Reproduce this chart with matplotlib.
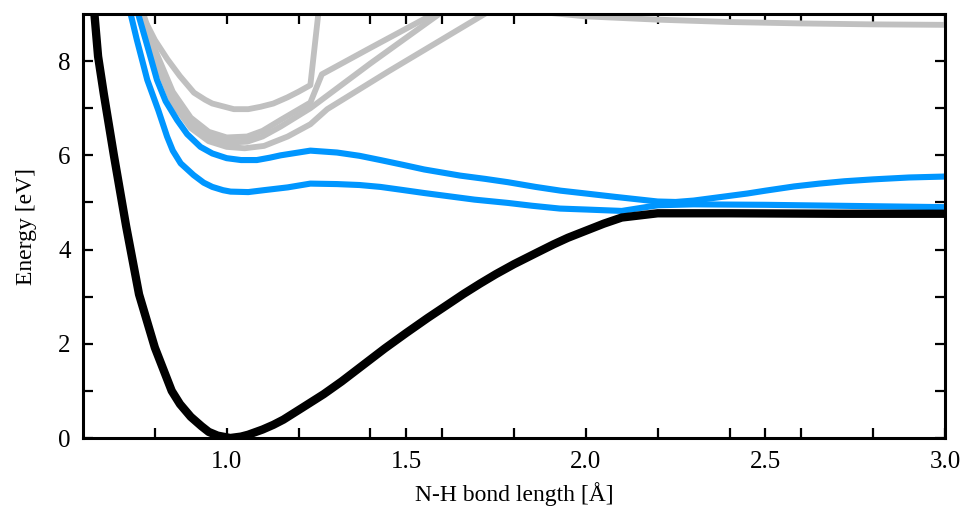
import matplotlib
matplotlib.use("Agg")
import matplotlib.pyplot as plt

# ground state (black)
gs_r = [0.625, 0.642, 0.658, 0.686, 0.72, 0.756, 0.80, 0.847, 0.87, 0.90, 0.93, 0.95, 0.975,
        1.01, 1.04, 1.06, 1.10, 1.13, 1.158, 1.21, 1.27, 1.32, 1.38, 1.44, 1.50, 1.56,
        1.613, 1.66, 1.706, 1.75, 1.80, 1.86, 1.91, 1.95, 2.0, 2.05, 2.10, 2.2, 2.4, 2.7, 3.0]
gs_e = [9.6, 8.1, 7.3, 6.0, 4.5, 3.05, 1.92, 1.0, 0.72, 0.45, 0.25, 0.13, 0.05,
        0.0, 0.03, 0.07, 0.18, 0.28, 0.39, 0.64, 0.93, 1.2, 1.55, 1.9, 2.23, 2.55,
        2.82, 3.06, 3.28, 3.48, 3.69, 3.92, 4.11, 4.25, 4.40, 4.55, 4.68, 4.77, 4.77, 4.76, 4.76]

# two lowest excited states (blue)
s1_r = [0.728, 0.75, 0.779, 0.81, 0.834, 0.85, 0.872, 0.908, 0.936, 0.96, 0.99, 1.011, 1.06,
        1.103, 1.17, 1.233, 1.307, 1.37, 1.428, 1.485, 1.55, 1.6, 1.69, 1.783, 1.85,
        1.928, 2.0, 2.10, 2.2, 2.3, 2.5, 2.7, 3.0]
s1_e = [9.15, 8.45, 7.6, 6.95, 6.4, 6.1, 5.83, 5.58, 5.42, 5.33, 5.26, 5.23, 5.22,
        5.26, 5.32, 5.40, 5.39, 5.37, 5.33, 5.27, 5.2, 5.15, 5.06, 4.99, 4.93,
        4.87, 4.85, 4.82, 4.94, 4.96, 4.95, 4.93, 4.90]

s2_r = [0.748, 0.78, 0.806, 0.83, 0.862, 0.89, 0.927, 0.96, 1.0, 1.04, 1.084, 1.12, 1.15,
        1.233, 1.307, 1.37, 1.428, 1.49, 1.55, 1.65, 1.72, 1.783, 1.86, 1.93, 2.0, 2.08,
        2.14, 2.2, 2.25, 2.3, 2.35, 2.45, 2.5, 2.58, 2.65, 2.72, 2.8, 2.9, 3.0]
s2_e = [9.15, 8.3, 7.6, 7.15, 6.75, 6.45, 6.18, 6.04, 5.94, 5.9, 5.90, 5.95, 6.0,
        6.10, 6.06, 5.99, 5.90, 5.80, 5.70, 5.57, 5.5, 5.43, 5.33, 5.25, 5.19, 5.12,
        5.07, 5.02, 5.01, 5.04, 5.09, 5.19, 5.25, 5.34, 5.40, 5.45, 5.49, 5.53, 5.55]

# higher states (grey)
g1_r = [0.754, 0.78, 0.80, 0.835, 0.87, 0.909, 0.94, 0.96, 1.02, 1.06, 1.094, 1.13, 1.169,
        1.20, 1.233, 1.258]
g1_e = [9.1, 8.75, 8.45, 8.04, 7.68, 7.33, 7.18, 7.10, 6.98, 6.98, 7.03, 7.1, 7.23,
        7.35, 7.49, 9.2]
g2_r = [0.764, 0.80, 0.85, 0.90, 0.95, 1.0, 1.057, 1.10, 1.15, 1.233, 1.265, 1.40, 1.60]
g2_e = [9.1, 8.25, 7.35, 6.80, 6.50, 6.38, 6.40, 6.52, 6.75, 7.12, 7.72, 8.28, 9.1]
g3_r = [0.761, 0.80, 0.85, 0.90, 0.95, 1.0, 1.057, 1.10, 1.15, 1.233, 1.40, 1.61]
g3_e = [9.1, 8.15, 7.2, 6.68, 6.40, 6.27, 6.29, 6.40, 6.61, 7.0, 7.95, 9.1]
g4_r = [0.758, 0.80, 0.85, 0.90, 0.95, 1.0, 1.05, 1.104, 1.17, 1.233, 1.28, 1.45, 1.74]
g4_e = [9.1, 8.05, 7.1, 6.58, 6.30, 6.18, 6.15, 6.20, 6.40, 6.66, 6.98, 7.78, 9.1]
g5_r = [1.85, 2.0, 2.2, 2.4, 2.6, 2.8, 3.0]
g5_e = [9.06, 8.95, 8.88, 8.83, 8.80, 8.78, 8.77]

grey = '#c0c0c0'
blue = '#0096ff'

plt.rcParams['font.family'] = ['Liberation Serif', 'DejaVu Serif']

fig = plt.figure(figsize=(9.64, 5.15), dpi=100)
ax = fig.add_axes([0.0861, 0.1495, 0.8942, 0.8233])

for r, e in [(g1_r, g1_e), (g2_r, g2_e), (g3_r, g3_e), (g4_r, g4_e), (g5_r, g5_e)]:
	ax.plot(r, e, color=grey, lw=4.2, solid_joinstyle='round')
ax.plot(s1_r, s1_e, color=blue, lw=4.4, solid_joinstyle='round')
ax.plot(s2_r, s2_e, color=blue, lw=4.4, solid_joinstyle='round')
ax.plot(gs_r, gs_e, color='black', lw=6.0, solid_joinstyle='round')

ax.set_xlim(0.6, 3.0)
ax.set_ylim(0, 9)

ax.set_xticks([1.0, 1.5, 2.0, 2.5, 3.0])
ax.set_xticklabels(['1.0', '1.5', '2.0', '2.5', '3.0'])
ax.set_xticks([0.8, 1.2, 1.4, 1.6, 1.8, 2.2, 2.4, 2.6, 2.8], minor=True)
ax.set_yticks([0, 2, 4, 6, 8])
ax.set_yticks([1, 3, 5, 7], minor=True)

ax.tick_params(which='both', direction='in', top=True, right=True, length=7, width=1.6,
               labelsize=18)
ax.tick_params(axis='x', which='major', pad=9)
ax.tick_params(axis='y', which='major', pad=9)
for s in ax.spines.values():
	s.set_linewidth(2.2)

ax.set_xlabel('N-H bond length [Å]', fontsize=17, labelpad=7)
ax.set_ylabel('Energy [eV]', fontsize=17, labelpad=15)

fig.savefig('out.png', dpi=100)
